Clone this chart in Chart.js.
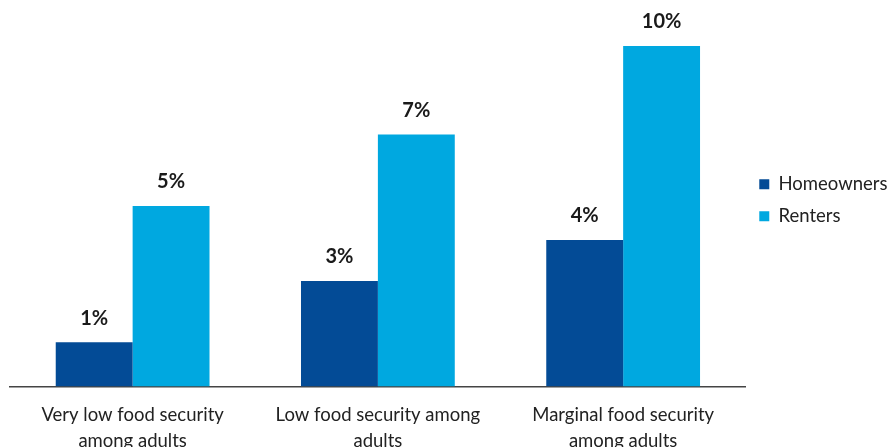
<!DOCTYPE html>
<html>
<head>
<meta charset="utf-8">
<script src="https://cdn.jsdelivr.net/npm/chart.js@4/dist/chart.umd.min.js"></script>
<style>
  html, body { margin: 0; padding: 0; background: #ffffff; }
  #wrap { width: 888px; height: 447px; position: relative; }
</style>
</head>
<body>
<div id="wrap"><canvas id="c"></canvas></div>
<script>
const categories = [
  ['Very low food security', 'among adults'],
  ['Low food security among', 'adults'],
  ['Marginal food security', 'among adults']
];
const seriesNames = ['Homeowners', 'Renters'];
const homeowners = [1.3, 3.1, 4.3];
const renters = [5.3, 7.4, 10.0];

const valueLabels = {
  id: 'valueLabels',
  afterDatasetsDraw(chart) {
    const ctx = chart.ctx;
    ctx.save();
    ctx.font = 'bold 20px Lato';
    ctx.fillStyle = '#1a1a1a';
    ctx.textAlign = 'center';
    ctx.textBaseline = 'middle';
    chart.data.datasets.forEach((ds, i) => {
      const meta = chart.getDatasetMeta(i);
      meta.data.forEach((bar, j) => {
        ctx.fillText(Math.round(ds.data[j]) + '%', bar.x, bar.y - 24);
      });
    });
    ctx.restore();
  }
};

new Chart(document.getElementById('c'), {
  type: 'bar',
  data: {
    labels: categories,
    datasets: [
      { label: seriesNames[0], data: homeowners, backgroundColor: '#034b96' },
      { label: seriesNames[1], data: renters, backgroundColor: '#00a8e0' }
    ]
  },
  options: {
    responsive: true,
    maintainAspectRatio: false,
    animation: false,
    datasets: {
      bar: { categoryPercentage: 0.627, barPercentage: 1.0, borderWidth: 0 }
    },
    layout: { padding: { top: 14, left: 10, right: -9.5, bottom: -22.7 } },
    plugins: {
      legend: {
        position: 'right',
        fullSize: false,
        labels: {
          boxWidth: 10,
          boxHeight: 10,
          padding: 13.5,
          color: '#222',
          font: { family: 'Lato', size: 18.5 }
        }
      },
      tooltip: { enabled: false }
    },
    scales: {
      x: {
        grid: { display: false, drawTicks: false },
        border: { display: true, color: '#444', width: 1.5 },
        ticks: {
          color: '#222',
          padding: 15,
          font: { family: 'Lato', size: 18.5, lineHeight: 1.44 },
          maxRotation: 0
        }
      },
      y: {
        display: false,
        min: 0,
        max: 10.94
      }
    }
  },
  plugins: [valueLabels]
});
</script>
</body>
</html>
